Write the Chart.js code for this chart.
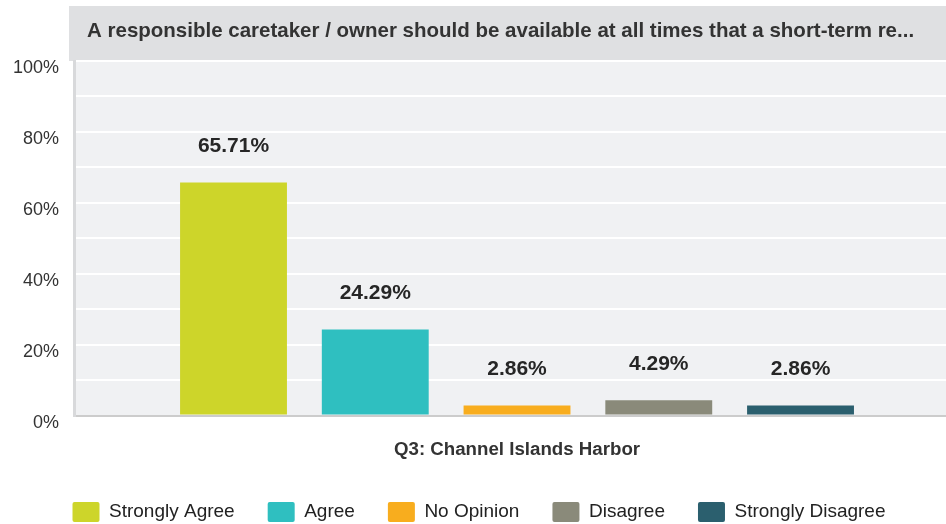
<!DOCTYPE html>
<html>
<head>
<meta charset="utf-8">
<script src="https://cdn.jsdelivr.net/npm/chart.js@4"></script>
<style>
  html, body { margin: 0; padding: 0; overflow: hidden; background: #fff; }
  #wrap { width: 960px; height: 524px; }
</style>
</head>
<body>
<div id="wrap"><canvas id="myChart"></canvas></div>
<script>
const titleText = 'A responsible caretaker / owner should be available at all times that a short-term re...';
const categories = ['Q3: Channel Islands Harbor'];
const answers = ['Strongly Agree', 'Agree', 'No Opinion', 'Disagree', 'Strongly Disagree'];
const percents = [65.71, 24.29, 2.86, 4.29, 2.86];
const colors = ['#cdd52a', '#2fbfc0', '#f8ad1e', '#8a8a7a', '#2b5f6e'];

const FONT = "Arial, 'Liberation Sans', sans-serif";

// grey header bar + plot background
const backdrop = {
  id: 'backdrop',
  beforeDraw(chart) {
    const { ctx, chartArea } = chart;
    ctx.save();
    ctx.fillStyle = '#dfe0e2';
    ctx.fillRect(69, 6, chart.width - 69, chartArea.top - 6);
    ctx.fillStyle = '#f0f1f3';
    ctx.fillRect(chartArea.left, chartArea.top, chartArea.right - chartArea.left, chartArea.bottom - chartArea.top);
    ctx.fillStyle = '#333333';
    ctx.font = 'bold 20.5px ' + FONT;
    ctx.textBaseline = 'alphabetic';
    ctx.fillText(titleText, 87, 37);
    ctx.restore();
  }
};

// value labels above bars
const valueLabels = {
  id: 'valueLabels',
  afterDatasetsDraw(chart) {
    const { ctx } = chart;
    ctx.save();
    ctx.fillStyle = '#262626';
    ctx.font = 'bold 21px ' + FONT;
    ctx.textAlign = 'center';
    ctx.textBaseline = 'middle';
    chart.data.datasets.forEach((ds, i) => {
      chart.getDatasetMeta(i).data.forEach((bar, j) => {
        ctx.fillText(ds.data[j].toFixed(2) + '%', bar.x, bar.y - 36);
      });
    });
    ctx.restore();
  }
};

const ctx = document.getElementById('myChart').getContext('2d');
const myChart = new Chart(ctx, {
  type: 'bar',
  data: {
    labels: categories,
    datasets: answers.map((name, i) => ({
      label: name,
      data: [percents[i]],
      backgroundColor: colors[i],
      borderWidth: 0,
      categoryPercentage: 0.8,
      barPercentage: 0.754
    }))
  },
  options: {
    responsive: true,
    maintainAspectRatio: false,
    animation: false,
    layout: { padding: { top: 61, left: -2, right: 0, bottom: -8 } },
    scales: {
      x: {
        grid: { display: false, drawTicks: false },
        border: { display: true, color: '#cccccc', width: 2 },
        ticks: { display: false },
        title: {
          display: true,
          text: categories[0],
          color: '#333333',
          padding: { top: 23, bottom: 8 },
          font: { family: FONT, size: 18.7, weight: 'bold' }
        }
      },
      y: {
        min: 0,
        max: 100,
        ticks: {
          stepSize: 10,
          color: '#333333',
          padding: 15,
          labelOffset: 7,
          font: { family: FONT, size: 18 },
          callback: (v) => (v % 20 === 0 ? v + '%' : '')
        },
        grid: { color: '#ffffff', lineWidth: 2, drawTicks: false },
        border: { display: true, color: '#d8d9db', width: 3 }
      }
    },
    plugins: {
      title: { display: false },
      tooltip: { enabled: false },
      legend: {
        position: 'bottom',
        labels: {
          boxWidth: 27,
          boxHeight: 20,
          padding: 33,
          color: '#222222',
          useBorderRadius: true,
          borderRadius: 2,
          font: { family: FONT, size: 19 }
        }
      }
    }
  },
  plugins: [backdrop, valueLabels]
});
</script>
</body>
</html>
